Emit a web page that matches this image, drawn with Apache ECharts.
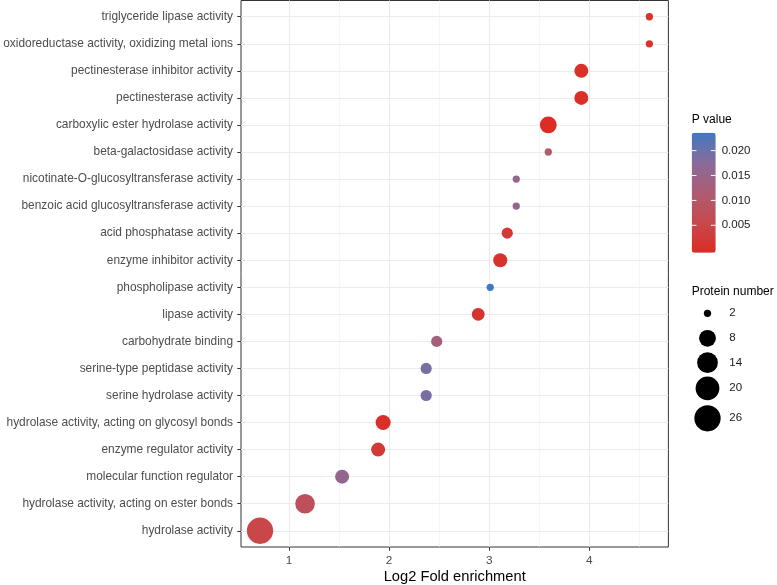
<!DOCTYPE html>
<html><head><meta charset="utf-8">
<script src="https://cdn.jsdelivr.net/npm/echarts@6/dist/echarts.min.js"></script>
<style>html,body{margin:0;padding:0;background:#fff}#c{width:777px;height:585px}</style>
</head><body><div id="c"></div>
<script>
// ---- data (top to bottom) ----
const categories = [
  'triglyceride lipase activity',
  'oxidoreductase activity, oxidizing metal ions',
  'pectinesterase inhibitor activity',
  'pectinesterase activity',
  'carboxylic ester hydrolase activity',
  'beta-galactosidase activity',
  'nicotinate-O-glucosyltransferase activity',
  'benzoic acid glucosyltransferase activity',
  'acid phosphatase activity',
  'enzyme inhibitor activity',
  'phospholipase activity',
  'lipase activity',
  'carbohydrate binding',
  'serine-type peptidase activity',
  'serine hydrolase activity',
  'hydrolase activity, acting on glycosyl bonds',
  'enzyme regulator activity',
  'molecular function regulator',
  'hydrolase activity, acting on ester bonds',
  'hydrolase activity'
];
const foldEnrichment = [4.60, 4.60, 3.92, 3.92, 3.59, 3.59, 3.27, 3.27, 3.18, 3.11, 3.01, 2.89, 2.475, 2.37, 2.37, 1.94, 1.89, 1.53, 1.16, 0.71];
const pValues = [0.0015, 0.0015, 0.0008, 0.0008, 0.0002, 0.011, 0.015, 0.015, 0.0025, 0.0012, 0.0230, 0.0012, 0.0127, 0.0185, 0.0185, 0.0006, 0.0028, 0.0155, 0.0080, 0.0052];
const proteinNumbers = [2, 2, 5, 5, 8, 2, 2, 2, 3, 5, 2, 4, 3, 3, 3, 6, 5, 5, 12, 26];
const xTicks = [1, 2, 3, 4];
const xMinorTicks = [1.5, 2.5, 3.5, 4.5];
const pTicks = [0.005, 0.010, 0.015, 0.020];
const pTickLabels = ['0.005', '0.010', '0.015', '0.020'];
const sizeBreaks = [2, 8, 14, 20, 26];

// ---- styling helpers ----
const FONT = "'Liberation Sans', Arial, Helvetica, sans-serif";
const P_MIN = 0.0001, P_MAX = 0.0230;
const N_MIN = 2, N_MAX = 26;
function sizeFn(n) {
  const t = Math.max(0, (n - N_MIN) / (N_MAX - N_MIN));
  return 3.5 + 3.8 * (1 + 5 * Math.sqrt(t));
}
const gradColors = ['#DC2C24', '#C7494D', '#AD5C73', '#886B9A', '#4078C2'];

const data = categories.map((c, i) => [foldEnrichment[i], i, pValues[i], proteinNumbers[i]]);

const chart = echarts.init(document.getElementById('c'), null, {renderer: 'canvas'});

// legend graphics
const barLeft = 691.7, barTop = 132.7, barW = 24, barH = 120;
const graphics = [];
graphics.push({type: 'text', left: 691.7, top: 114, z: 100,
  style: {text: 'P value', fill: '#000', font: '12px ' + FONT}});
pTicks.forEach((p, i) => {
  const y = barTop + 3 + (P_MAX - p) / (P_MAX - P_MIN) * (barH - 6);
  graphics.push({type: 'line', z: 100, shape: {x1: barLeft, y1: y, x2: barLeft + 4.8, y2: y}, style: {stroke: '#fff', lineWidth: 1}});
  graphics.push({type: 'line', z: 100, shape: {x1: barLeft + barW - 4.8, y1: y, x2: barLeft + barW, y2: y}, style: {stroke: '#fff', lineWidth: 1}});
  graphics.push({type: 'text', z: 100, x: 721.7, y: y,
    style: {text: pTickLabels[i], fill: '#1a1a1a', font: '11.5px ' + FONT, textVerticalAlign: 'middle'}});
});
graphics.push({type: 'text', left: 691.7, top: 286, z: 100,
  style: {text: 'Protein number', fill: '#000', font: '12px ' + FONT}});
const sizeY = [313.3, 338.3, 362.7, 388.3, 418.3];
sizeBreaks.forEach((n, i) => {
  graphics.push({type: 'circle', z: 100, shape: {cx: 707.5, cy: sizeY[i], r: sizeFn(n) / 2}, style: {fill: '#000'}});
  graphics.push({type: 'text', z: 100, x: 729.3, y: sizeY[i],
    style: {text: String(n), fill: '#1a1a1a', font: '11.5px ' + FONT, textVerticalAlign: 'middle'}});
});

const option = {
  backgroundColor: '#fff',
  animation: false,
  textStyle: {fontFamily: FONT},
  grid: {left: 241, top: 0.5, width: 427.4, height: 546.5, show: true, borderColor: '#333', borderWidth: 1,
    backgroundColor: '#fff', z: 0, containLabel: false, outerBoundsMode: 'none'},
  xAxis: [{
    type: 'value', min: 0.52, max: 4.79, gridIndex: 0, position: 'bottom',
    name: 'Log2 Fold enrichment', nameLocation: 'middle', nameGap: 22, nameMoveOverlap: false,
    nameTextStyle: {color: '#000', fontSize: 14.7, fontFamily: FONT},
    axisLine: {show: false, onZero: false},
    axisTick: {show: true, length: 3.7, lineStyle: {color: '#333', width: 1}, customValues: xTicks},
    axisLabel: {show: true, margin: 8, color: '#4D4D4D', fontSize: 11.8, fontFamily: FONT, customValues: xTicks},
    splitLine: {show: true, lineStyle: {color: '#EBEBEB', width: 1.1}}
  }, {
    type: 'value', min: 0.52, max: 4.79, gridIndex: 0, position: 'bottom',
    axisLine: {show: false, onZero: false}, axisTick: {show: false, customValues: xMinorTicks},
    axisLabel: {show: false, customValues: xMinorTicks},
    splitLine: {show: true, lineStyle: {color: '#F0F0F0', width: 0.7}}
  }],
  yAxis: {
    type: 'value', min: -0.6, max: 19.6, inverse: true,
    axisLine: {show: false, onZero: false},
    axisTick: {show: true, length: 3.7, lineStyle: {color: '#333', width: 1}, customValues: categories.map((c, i) => i)},
    axisLabel: {show: true, margin: 8, color: '#4D4D4D', fontSize: 11.9, fontFamily: FONT,
      customValues: categories.map((c, i) => i), formatter: v => categories[Math.round(v)] || ''},
    splitLine: {show: true, lineStyle: {color: '#EBEBEB', width: 1.1}}
  },
  visualMap: {
    type: 'continuous', min: P_MIN, max: P_MAX, dimension: 2, seriesIndex: 0,
    calculable: false, show: true, left: barLeft, top: barTop, itemWidth: barW, itemHeight: barH,
    padding: 0, text: null, showLabel: false,
    inRange: {color: gradColors}
  },
  series: [{
    type: 'scatter', xAxisIndex: 0, yAxisIndex: 0,
    data: data,
    symbol: 'circle',
    symbolSize: v => sizeFn(v[3]),
    itemStyle: {opacity: 1},
    z: 5
  }],
  graphic: graphics
};
chart.setOption(option);
</script>
</body></html>
